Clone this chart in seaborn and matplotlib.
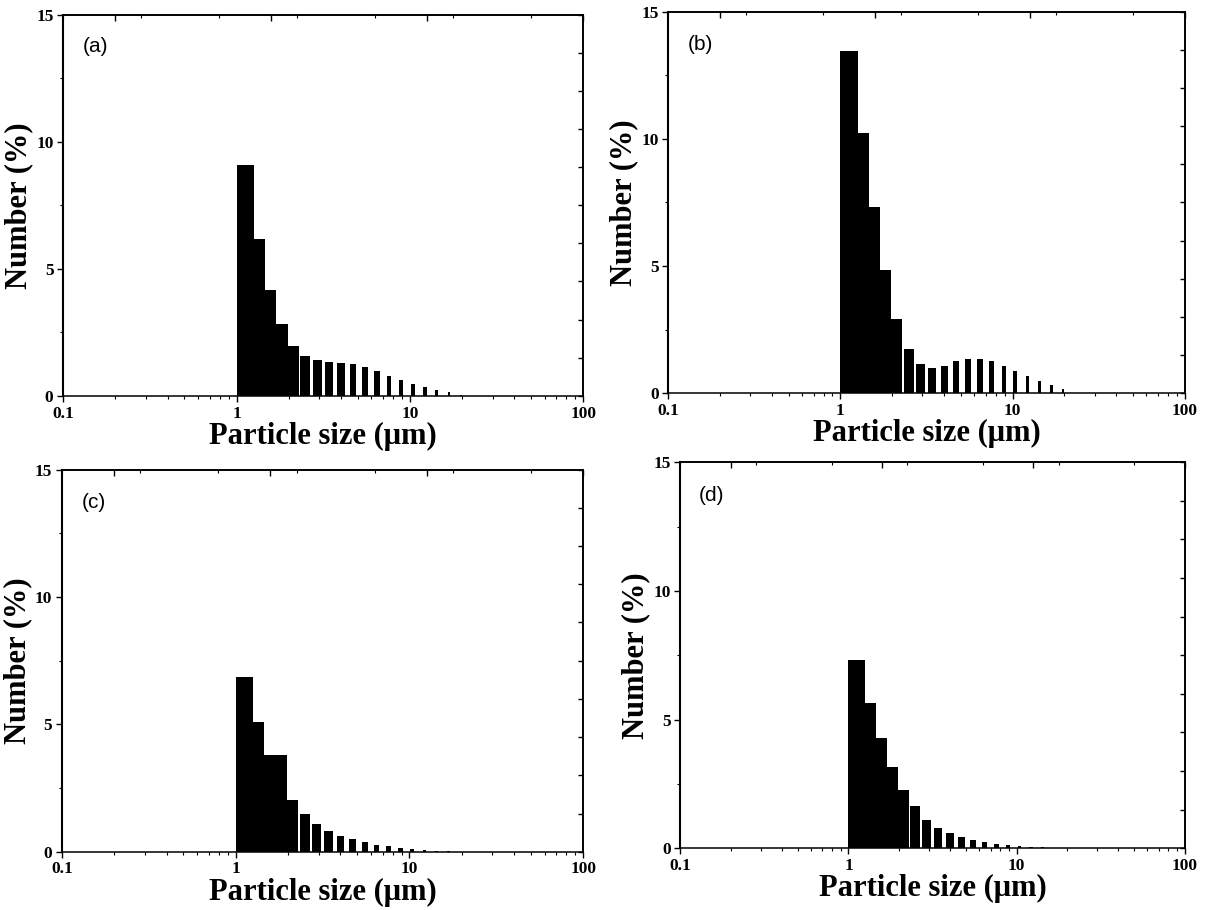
import numpy as np
import matplotlib
matplotlib.use('Agg')
import matplotlib.pyplot as plt
from matplotlib.ticker import FixedLocator, LogLocator, MultipleLocator, NullFormatter
import seaborn as sns

# size classes (um) and number distributions
sizes_um = [1.13, 1.32, 1.55, 1.82, 2.13, 2.50, 2.93, 3.43, 4.02, 4.71,
            5.52, 6.47, 7.58, 8.89, 10.4, 12.2, 14.3, 16.8, 19.7]
number_a = [9.08, 6.18, 4.18, 2.84, 1.98, 1.58, 1.42, 1.35, 1.30, 1.24,
            1.13, 0.97, 0.80, 0.64, 0.47, 0.34, 0.24, 0.14, 0.05]
number_b = [13.44, 10.22, 7.33, 4.84, 2.92, 1.73, 1.13, 0.99, 1.08, 1.25,
            1.34, 1.34, 1.27, 1.05, 0.87, 0.66, 0.48, 0.33, 0.17]
number_c = [6.86, 5.10, 3.78, 3.78, 2.05, 1.48, 1.09, 0.80, 0.63, 0.49,
            0.37, 0.28, 0.21, 0.16, 0.11, 0.07, 0.04, 0.02, 0.01]
number_d = [7.33, 5.65, 4.27, 3.15, 2.27, 1.62, 1.10, 0.79, 0.57, 0.42,
            0.30, 0.22, 0.17, 0.13, 0.10, 0.06, 0.04, 0.02, 0.01]
panel_names = ['(a)', '(b)', '(c)', '(d)']
x_ticks = [0.1, 1, 10, 100]
x_tick_labels = ['0.1', '1', '10', '100']
y_ticks = [0, 5, 10, 15]

sns.set_theme(style='ticks')
plt.rcParams['font.family'] = ['Liberation Serif', 'DejaVu Serif']
plt.rcParams['font.weight'] = 'bold'
plt.rcParams['text.color'] = 'black'
plt.rcParams['axes.labelcolor'] = 'black'

fig = plt.figure(figsize=(12.15, 9.1), dpi=100)

boxes = [[0.052, 0.565, 0.428, 0.419],
         [0.550, 0.568, 0.425, 0.419],
         [0.051, 0.064, 0.429, 0.420],
         [0.560, 0.068, 0.415, 0.424]]
series = [number_a, number_b, number_c, number_d]


def bar_width(x):
    # bars get relatively narrower towards the coarse end, as in the original
    return 0.25 * np.power(x, 0.325)


for box, name, values in zip(boxes, panel_names, series):
    ax = fig.add_axes(box)
    x = np.array(sizes_um)
    ax.bar(x, values, width=bar_width(x), color='black', linewidth=0, align='center')
    ax.set_xscale('log')
    ax.set_xlim(0.1, 100)
    ax.set_ylim(0, 15)

    ax.xaxis.set_major_locator(FixedLocator(x_ticks))
    ax.set_xticklabels(x_tick_labels)
    ax.xaxis.set_minor_locator(LogLocator(subs=range(2, 10)))
    ax.xaxis.set_minor_formatter(NullFormatter())
    ax.set_yticks(y_ticks)
    ax.yaxis.set_minor_locator(MultipleLocator(2.5))
    ax.tick_params(which='major', direction='out', length=4, width=1.0,
                   labelsize=12.5, colors='black', pad=3)
    ax.tick_params(which='minor', direction='out', length=2.5, width=0.8, colors='black')
    ax.tick_params(top=False, right=False)
    for side in ['left', 'bottom', 'top', 'right']:
        ax.spines[side].set_color('black')
        ax.spines[side].set_linewidth(1.1)
    ax.spines['left'].set_linewidth(1.5)

    top = ax.secondary_xaxis('top', functions=(np.log10, lambda v: 10 ** v))
    top.set_xticks(np.arange(-1, 2.01, 0.6))
    top.xaxis.set_minor_locator(MultipleLocator(0.3))
    top.xaxis.set_minor_formatter(NullFormatter())
    top.tick_params(which='major', direction='in', length=4, width=1.0, labeltop=False, colors='black')
    top.tick_params(which='minor', direction='in', length=2.5, width=0.8, colors='black')
    top.spines['top'].set_color('black')

    right = ax.secondary_yaxis('right')
    right.set_yticks(np.arange(0, 15.01, 1.5))
    right.tick_params(direction='in', length=3.5, width=1.0, labelright=False, colors='black')
    right.spines['right'].set_color('black')

    ax.set_xlabel('Particle size (μm)', fontsize=22, fontweight='bold', labelpad=0)
    ax.set_ylabel('Number (%)', fontsize=22, fontweight='bold', labelpad=2)
    ax.text(0.037, 0.915, name, transform=ax.transAxes, fontsize=15,
            fontweight='normal', family=['Liberation Sans', 'DejaVu Sans'],
            va='center', ha='left')

fig.savefig('out.png', dpi=100, facecolor='white')
